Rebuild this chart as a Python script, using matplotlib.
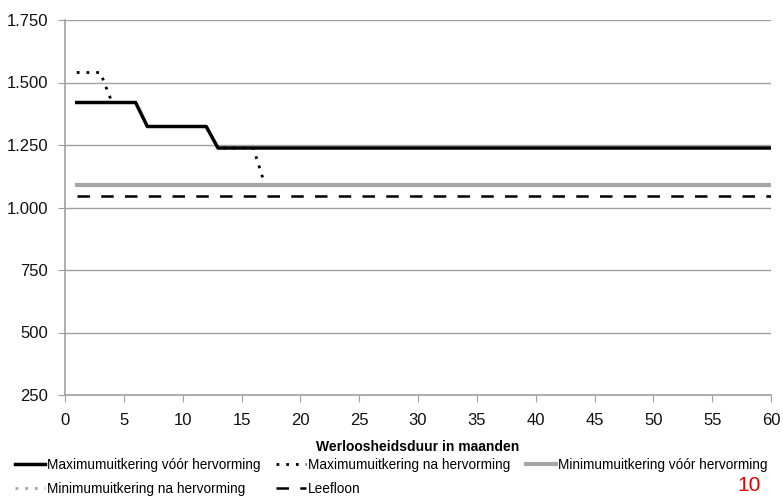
import matplotlib.pyplot as plt
import numpy as np
from matplotlib.ticker import FuncFormatter

plt.rcParams["font.family"] = ["Liberation Sans", "DejaVu Sans"]

# werkloosheidsduur in maanden
months = np.arange(1, 61)

# bedragen per periode (maand van, maand tot, bedrag)
max_before_steps = [(1, 6, 1420), (7, 12, 1324), (13, 60, 1238)]
max_after_steps = [(1, 3, 1540), (4, 6, 1420), (7, 12, 1324), (13, 16, 1238), (17, 60, 1090)]
min_before_level = 1090
min_after_level = 1090
leefloon_level = 1046


def expand(steps):
    values = np.zeros(len(months))
    for start, end, amount in steps:
        values[(months >= start) & (months <= end)] = amount
    return values


max_before = expand(max_before_steps)
max_after = expand(max_after_steps)
min_before = np.full(len(months), min_before_level)
min_after = np.full(len(months), min_after_level)
leefloon = np.full(len(months), leefloon_level)

fig = plt.figure(figsize=(7.83, 4.99), dpi=100)
ax = fig.add_axes([65 / 783, 1 - 395 / 499, (771 - 65) / 783, (395 - 20) / 499])

grey = "#a6a6a6"
dots = (0, (1, 2.5))
# de stippellijnen liggen onder de volle lijnen, zoals in het origineel
h_max_after, = ax.plot(months, max_after, color="black", lw=2, ls=dots,
                       label="Maximumuitkering na hervorming", zorder=2)
h_min_after, = ax.plot(months, min_after, color=grey, lw=2, ls=dots,
                       label="Minimumuitkering na hervorming", zorder=2)
h_min_before, = ax.plot(months, min_before, color=grey, lw=3,
                        label="Minimumuitkering vóór hervorming", zorder=3)
h_leef, = ax.plot(months, leefloon, color="black", lw=1.8, ls=(0, (5, 4.5)),
                  label="Leefloon", zorder=3)
h_max_before, = ax.plot(months, max_before, color="black", lw=2.5,
                        label="Maximumuitkering vóór hervorming", zorder=3)

ax.set_xlim(0, 60)
ax.set_ylim(250, 1750)
ax.set_xticks(np.arange(0, 61, 5))
ax.set_yticks(np.arange(250, 1751, 250))
ax.yaxis.set_major_formatter(FuncFormatter(lambda v, p: f"{int(v):,}".replace(",", ".")))
ax.grid(axis="y", color="#a0a0a0", lw=1)
ax.set_axisbelow(True)
for side in ["top", "right"]:
    ax.spines[side].set_visible(False)
for side in ["left", "bottom"]:
    ax.spines[side].set_color("#a0a0a0")
    ax.spines[side].set_linewidth(1.2)
ax.tick_params(colors="#a0a0a0", labelcolor="#111111", labelsize=12, length=5)
ax.tick_params(axis="y", pad=7)
ax.tick_params(axis="x", pad=8)
ax.set_xlabel("Werloosheidsduur in maanden", fontsize=10, fontweight="bold")
ax.xaxis.set_label_coords(0.5, -0.12)

handles = [h_max_before, h_min_after, h_max_after, h_leef, h_min_before]
fig.legend(handles=handles, labels=[h.get_label() for h in handles], ncol=3,
           loc="upper left", bbox_to_anchor=(0.019, 0.082), frameon=False,
           fontsize=9.8, handlelength=2.2, handletextpad=0.15, columnspacing=1.15,
           labelspacing=0.72, borderaxespad=0, borderpad=0)

fig.text(0.972, 0.008, "10", color="#e00000", fontsize=15, ha="right", va="bottom")

fig.savefig("out.png", dpi=100)
